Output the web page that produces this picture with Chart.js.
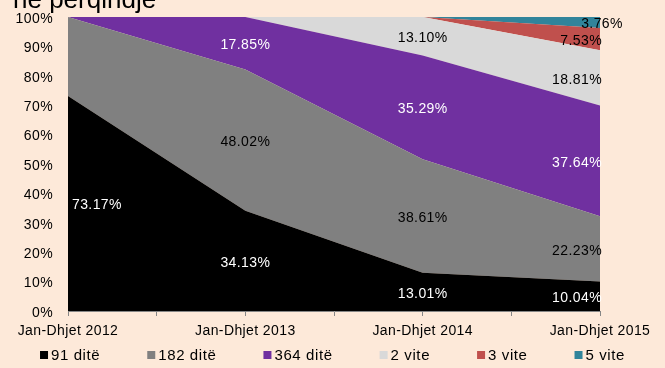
<!DOCTYPE html>
<html>
<head>
<meta charset="utf-8">
<script src="https://cdn.jsdelivr.net/npm/chart.js@4.4.1/dist/chart.umd.min.js"></script>
<style>
  html, body { margin: 0; padding: 0; background: #FDE9D9; }
  #wrap { width: 665px; height: 368px; position: relative; }
</style>
</head>
<body>
<div id="wrap"><canvas id="c" width="665" height="368"></canvas></div>
<script>
// Periods on the x axis
const categories = ['Jan-Dhjet 2012', 'Jan-Dhjet 2013', 'Jan-Dhjet 2014', 'Jan-Dhjet 2015'];

// Share of each maturity, in percent
const bills91 = [73.17, 34.13, 13.01, 10.04];
const bills182 = [26.83, 48.02, 38.61, 22.23];
const bills364 = [0, 17.85, 35.29, 37.64];
const bonds2y = [0, 0, 13.10, 18.81];
const bonds3y = [0, 0, 0, 7.53];
const bonds5y = [0, 0, 0, 3.76];

const seriesNames = ['91 ditë', '182 ditë', '364 ditë', '2 vite', '3 vite', '5 vite'];
const yTicks = [0, 10, 20, 30, 40, 50, 60, 70, 80, 90, 100];
const titleText = 'në përqindje';

const fills = ['#000000', '#808080', '#7030A0', '#D9D9D9', '#C0504D', '#31849B'];
const labelColors = ['#FFFFFF', '#000000', '#FFFFFF', '#000000', '#000000', '#000000'];
const FONT = '"Liberation Sans", Arial, sans-serif';

const allSeries = [bills91, bills182, bills364, bonds2y, bonds3y, bonds5y];

const datasets = allSeries.map((vals, i) => ({
  label: seriesNames[i],
  data: vals.map((v, j) => ({ x: j, y: v })),
  backgroundColor: fills[i],
  borderColor: fills[i],
  borderWidth: 0,
  pointRadius: 0,
  tension: 0,
  fill: i === 0 ? 'origin' : '-1'
}));

// Slightly open tracking for all text on the canvas
const tracking = {
  id: 'tracking',
  beforeDraw(chart) { chart.ctx.letterSpacing = '0.4px'; }
};

// Value labels inside the stacked areas
const areaLabels = {
  id: 'areaLabels',
  afterDatasetsDraw(chart) {
    const ctx = chart.ctx;
    const xs = chart.scales.x, ys = chart.scales.y;
    ctx.save();
    ctx.font = '14px ' + FONT;
    ctx.textBaseline = 'middle';
    for (let j = 0; j < categories.length; j++) {
      let base = 0;
      allSeries.forEach((vals, i) => {
        const v = vals[j];
        const lo = base;
        base += v;
        if (!v) return;
        if (j === 0 && i === 1) return; // remainder of first period is left unlabelled
        const mid = (lo + base) / 2;
        const x = xs.getPixelForValue(j);
        const y = ys.getPixelForValue(mid) + 2;
        let tx = x, align = 'center';
        if (j === 0) { tx = x + 4; align = 'left'; }
        else if (j === categories.length - 1) {
          tx = x + 2;
          align = (i === allSeries.length - 1) ? 'center' : 'right';
        }
        ctx.textAlign = align;
        ctx.fillStyle = labelColors[i];
        ctx.fillText(v.toFixed(2) + '%', tx, y);
      });
    }
    ctx.restore();
  }
};

// Heading in the top-left corner and the legend row along the bottom
const decorations = {
  id: 'decorations',
  afterDraw(chart) {
    const ctx = chart.ctx;
    ctx.save();
    ctx.letterSpacing = '0px';
    ctx.font = '26px ' + FONT;
    ctx.fillStyle = '#000000';
    ctx.textAlign = 'left';
    ctx.textBaseline = 'alphabetic';
    ctx.fillText(titleText, 13, 8);

    ctx.letterSpacing = '0.6px';
    ctx.font = '15px ' + FONT;
    ctx.textBaseline = 'middle';
    const box = 8, gapText = 3, gapItem = 47;
    const widths = seriesNames.map(n => box + gapText + ctx.measureText(n).width);
    const total = widths.reduce((a, b) => a + b, 0) + gapItem * (widths.length - 1);
    let x = (chart.width - total) / 2;
    const yMid = 355;
    seriesNames.forEach((n, i) => {
      ctx.fillStyle = fills[i];
      ctx.fillRect(x, yMid - box / 2, box, box);
      ctx.fillStyle = '#000000';
      ctx.fillText(n, x + box + gapText, yMid + 1);
      x += widths[i] + gapItem;
    });
    ctx.restore();
  }
};

new Chart(document.getElementById('c'), {
  type: 'line',
  data: { datasets },
  options: {
    responsive: false,
    animation: false,
    layout: { padding: { top: 17, right: 65, bottom: 25, left: 0 } },
    scales: {
      x: {
        type: 'linear',
        min: 0,
        max: categories.length - 1,
        afterBuildTicks(scale) {
          const t = [];
          for (let v = 0; v <= categories.length - 1 + 1e-9; v += 0.5) t.push({ value: v });
          scale.ticks = t;
        },
        afterFit(scale) {
          scale.height = 32;
          scale.paddingLeft = 0;
          scale.paddingRight = 0;
        },
        ticks: {
          autoSkip: false,
          maxRotation: 0,
          padding: 7,
          color: '#000000',
          font: { family: FONT, size: 14 },
          callback: (v) => Number.isInteger(v) ? categories[v] : ''
        },
        grid: { drawOnChartArea: false, drawTicks: true, tickLength: 5, color: '#868686' },
        border: { display: true, color: '#868686', width: 1 }
      },
      y: {
        stacked: true,
        min: 0,
        max: 100,
        afterBuildTicks(scale) { scale.ticks = yTicks.map(v => ({ value: v })); },
        afterFit(scale) {
          scale.width = 68;
          scale.paddingTop = 0;
          scale.paddingBottom = 0;
        },
        ticks: {
          padding: 15,
          labelOffset: 2,
          color: '#000000',
          font: { family: FONT, size: 14 },
          callback: (v) => v + '%'
        },
        grid: { display: false, drawTicks: false },
        border: { display: false }
      }
    },
    plugins: {
      legend: { display: false },
      tooltip: { enabled: false },
      filler: { propagate: false }
    }
  },
  plugins: [tracking, areaLabels, decorations]
});
</script>
</body>
</html>
